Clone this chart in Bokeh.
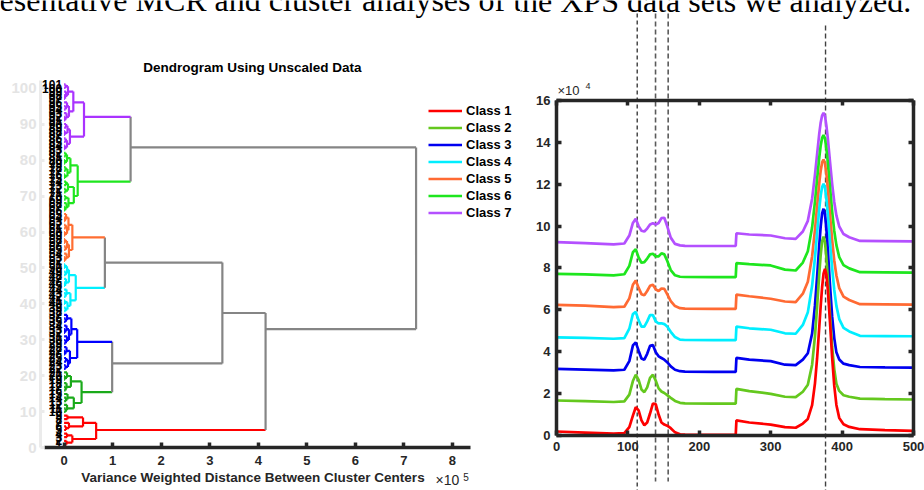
from bokeh.plotting import figure
from bokeh.models import (Range1d, LinearAxis, FixedTicker, Label, Legend, LegendItem,
                          CustomJSTickFormatter, ColumnDataSource)
from bokeh.layouts import row
from bokeh.embed import file_html
from bokeh.resources import INLINE
from bokeh.core.properties import value

FONT = "Liberation Sans"
SERIF = "Liberation Serif"
INK = "#262626"
GRAY = "#858585"

# ---------------- data ----------------
class_names = ["Class 1", "Class 2", "Class 3", "Class 4", "Class 5", "Class 6", "Class 7"]
spec_colors = ["#ff0000", "#64c81e", "#0000f0", "#00eeff", "#ff6a33", "#1ee61e", "#b450ff"]
dend_colors = ["#ff0000", "#1aaa1a", "#0000ff", "#00f0ff", "#ff6e32", "#1ee61e", "#aa33ff"]

header_text = "esentative MCR and cluster analyses of the XPS data sets we analyzed."

# spectra (intensity in units of 1e4)
energy = [0, 40, 80, 95, 102, 107, 111, 115, 119, 123, 127, 131, 135, 139, 143, 147, 151, 155,
          160, 166, 173, 180, 220, 251, 252, 270, 300, 320, 335,
          345, 352, 358, 362, 365, 368, 370, 372, 374, 376, 378, 380, 383, 386, 389, 392, 396, 402, 410,
          425, 460, 500]
class1 = [0.19, 0.14, 0.09, 0.11, 0.40, 0.95, 1.35, 1.20, 0.72, 0.49, 0.62, 1.05, 1.52, 1.50, 1.00, 0.62, 0.52, 0.47,
          0.35, 0.15, 0.06, 0.04, 0.03, 0.03, 0.72, 0.62, 0.52, 0.40, 0.37,
          0.57, 0.79, 1.45, 2.49, 3.69, 5.16, 6.18, 7.08, 7.73, 7.96, 7.68, 6.96, 5.43, 3.75, 2.38, 1.46, 0.84, 0.54, 0.41,
          0.30, 0.26, 0.22]
class2 = [1.67, 1.64, 1.60, 1.63, 1.95, 2.60, 2.90, 2.65, 2.20, 2.07, 2.30, 2.75, 2.90, 2.62, 2.25, 2.10, 2.03, 1.93,
          1.80, 1.65, 1.56, 1.53, 1.52, 1.52, 2.23, 2.12, 1.99, 1.85, 1.83,
          2.09, 2.42, 3.38, 4.75, 6.17, 7.71, 8.62, 9.27, 9.50, 9.23, 8.50, 7.49, 5.79, 4.25, 3.17, 2.47, 2.13, 1.92, 1.85,
          1.76, 1.74, 1.72]
class3 = [3.18, 3.15, 3.11, 3.14, 3.55, 4.30, 4.45, 4.05, 3.68, 3.62, 3.90, 4.28, 4.32, 3.98, 3.78, 3.70, 3.62, 3.50,
          3.30, 3.14, 3.07, 3.05, 3.04, 3.04, 3.71, 3.62, 3.55, 3.38, 3.36,
          3.62, 3.93, 4.87, 6.21, 7.59, 9.09, 9.97, 10.61, 10.83, 10.56, 9.85, 8.86, 7.21, 5.70, 4.65, 3.97, 3.63, 3.43, 3.36,
          3.27, 3.25, 3.24]
class4 = [4.69, 4.66, 4.62, 4.65, 5.10, 5.80, 5.90, 5.50, 5.20, 5.20, 5.45, 5.75, 5.75, 5.45, 5.35, 5.36, 5.32, 5.20,
          4.95, 4.70, 4.58, 4.56, 4.55, 4.55, 5.20, 5.12, 5.05, 4.88, 4.86,
          5.28, 5.88, 7.15, 8.49, 9.68, 10.83, 11.45, 11.87, 12.02, 11.84, 11.29, 10.57, 9.26, 8.00, 6.95, 6.19, 5.56, 5.14, 4.97,
          4.76, 4.75, 4.74]
class5 = [6.24, 6.20, 6.13, 6.15, 6.55, 7.20, 7.40, 7.05, 6.75, 6.70, 6.90, 7.15, 7.20, 6.98, 6.90, 7.02, 7.00, 6.75,
          6.42, 6.18, 6.08, 6.06, 6.05, 6.05, 6.73, 6.65, 6.53, 6.40, 6.37,
          6.77, 7.34, 8.55, 9.82, 10.95, 12.05, 12.64, 13.04, 13.18, 13.01, 12.49, 11.80, 10.56, 9.35, 8.36, 7.64, 7.04, 6.63, 6.47,
          6.27, 6.26, 6.25]
class6 = [7.72, 7.69, 7.65, 7.70, 8.10, 8.75, 8.90, 8.50, 8.25, 8.28, 8.45, 8.65, 8.68, 8.55, 8.55, 8.70, 8.65, 8.35,
          7.90, 7.65, 7.58, 7.57, 7.56, 7.56, 8.23, 8.18, 8.12, 7.92, 7.88,
          8.26, 8.80, 9.94, 11.17, 12.23, 13.27, 13.84, 14.21, 14.35, 14.19, 13.69, 13.04, 11.86, 10.72, 9.77, 9.09, 8.52, 8.14, 7.98,
          7.80, 7.79, 7.78]
class7 = [9.23, 9.19, 9.13, 9.17, 9.55, 10.15, 10.35, 10.00, 9.78, 9.74, 9.88, 10.08, 10.14, 10.08, 10.15, 10.38, 10.40, 10.00,
          9.45, 9.15, 9.08, 9.06, 9.05, 9.05, 9.66, 9.60, 9.55, 9.42, 9.39,
          9.74, 10.25, 11.31, 12.45, 13.44, 14.41, 14.94, 15.28, 15.41, 15.26, 14.80, 14.19, 13.09, 12.03, 11.15, 10.51, 9.98, 9.62, 9.47,
          9.29, 9.28, 9.27]
spectra = [class1, class2, class3, class4, class5, class6, class7]

ref_lines = [113.0, 138.7, 156.4, 376.8]
spec_x_ticks = [0, 100, 200, 300, 400, 500]
spec_y_ticks = [0, 2, 4, 6, 8, 10, 12, 14, 16]

# dendrogram: (left, right, height in 1e5); leaves are leaf positions
class_trees = [
    (((1, 2, .05), (3, 4, .06), .17), (((5, 6, .04), 7, .10), (8, 9, .07), .39), .66),
    ((((10, 11, .03), 12, .06), ((13, 14, .04), 15, .07), .20),
     (((16, 17, .03), 18, .05), ((19, 20, .02), 21, .06), .14), .36),
    ((((22, 23, .03), (24, 25, .04), .08), ((26, 27, .02), 28, .05), .12),
     ((((29, 30, .03), 31, .06), ((32, 33, .02), 34, .05), .10), ((35, 36, .03), 37, .06), .15), .27),
    ((((38, 39, .03), (40, 41, .02), .07), ((42, 43, .03), 44, .05), .13),
     (((45, 46, .02), 47, .04), ((48, 49, .03), (50, 51, .02), .06), .10), .24),
    ((((52, 53, .02), 54, .05), ((55, 56, .03), (57, 58, .02), .06), .10),
     (((59, 60, .02), (61, 62, .03), .06), ((63, 64, .02), 65, .04), .09), .17),
    (((((66, 67, .02), 68, .05), (69, 70, .03), .09), ((71, 72, .03), (73, 74, .04), .08), .20),
     (((75, 76, .02), (77, 78, .03), .07), ((79, 80, .02), (81, 82, .03), .06), .13), .28),
    ((((83, 84, .02), (85, 86, .03), .06), ((87, 88, .02), (89, 90, .04), .07), .12),
     ((((91, 92, .02), 93, .05), ((94, 95, .03), 96, .06), .10), (((97, 98, .02), 99, .04), (100, 101, .03), .08), .19), .41),
]
gray_links = [("C4", "C5", 0.84, "B"), ("C2", "C3", 0.99, "C"), ("C", "B", 3.26, "D"),
              ("C1", "D", 4.15, "E"), ("C6", "C7", 1.37, "A"), ("E", "A", 7.25, "R")]
leaf_labels = [str(i) for i in range(1, 102)]
dend_x_ticks = [0, 1, 2, 3, 4, 5, 6, 7, 8]
dend_y_ticks = [0, 10, 20, 30, 40, 50, 60, 70, 80, 90, 100]


def style_axis(ax, color=INK, label_color=INK, width=3.5, size="13px", tick_in=5, standoff=6):
    ax.axis_line_color = color
    ax.axis_line_width = width
    ax.major_tick_line_color = color
    ax.major_tick_line_width = width
    ax.major_tick_in = tick_in
    ax.major_tick_out = 0
    ax.minor_tick_line_color = None
    ax.major_label_text_font = FONT
    ax.major_label_text_font_style = "bold"
    ax.major_label_text_font_size = size
    ax.major_label_text_color = label_color
    ax.major_label_standoff = standoff


def base_fig(w, h, xr, yr):
    p = figure(width=w, height=h, x_range=Range1d(*xr), y_range=Range1d(*yr),
               output_backend="svg", toolbar_location=None, min_border=0)
    p.outline_line_color = None
    p.grid.visible = False
    p.background_fill_color = "white"
    p.border_fill_color = "white"
    return p


# ---------------- left: dendrogram ----------------
p1 = base_fig(520, 490, (-1.31, 9.401), (-11.81, 124.31))


def walk(node, color, segs):
    """returns (sum of leaf positions, leaf count, height)"""
    if isinstance(node, int):
        return float(node), 1, 0.0
    left, right, h = node
    s1, n1, h1 = walk(left, color, segs)
    s2, n2, h2 = walk(right, color, segs)
    y1, y2 = s1 / n1, s2 / n2
    segs.append((h1, y1, h, y1, color))
    segs.append((h, y1, h, y2, color))
    segs.append((h2, y2, h, y2, color))
    return s1 + s2, n1 + n2, h


segs = []
nodes = {}
for i, tree in enumerate(class_trees):
    s, n, h = walk(tree, dend_colors[i], segs)
    nodes["C%d" % (i + 1)] = (s, n, h, dend_colors[i])
for a, b, h, name in gray_links:
    sa, na, ha, ca = nodes[a]
    sb, nb, hb, cb = nodes[b]
    ya, yb = sa / na, sb / nb
    segs += [(ha, ya, h, ya, ca), (h, ya, h, yb, GRAY), (hb, yb, h, yb, cb)]
    nodes[name] = (sa + sb, na + nb, h, GRAY)

seg_src = ColumnDataSource(dict(x0=[s[0] for s in segs], y0=[s[1] for s in segs],
                                x1=[s[2] for s in segs], y1=[s[3] for s in segs],
                                c=[s[4] for s in segs]))
p1.segment(x0="x0", y0="y0", x1="x1", y1="y1", line_color="c", line_width=2.2, source=seg_src)

leaf_src = ColumnDataSource(dict(x=[0.0] * len(leaf_labels), y=list(range(1, len(leaf_labels) + 1)), t=leaf_labels))
p1.text(x="x", y="y", text="t", source=leaf_src, text_font=value(FONT), text_font_style="bold",
        text_font_size="12px", text_align="right", text_baseline="middle", x_offset=-2, text_color="black")

p1.xaxis.fixed_location = 0
p1.xaxis.bounds = (-0.4, 8.37)
p1.xaxis.ticker = FixedTicker(ticks=dend_x_ticks)
style_axis(p1.xaxis, standoff=8)
p1.yaxis.fixed_location = -0.486
p1.yaxis.bounds = (0, 102)
p1.yaxis.ticker = FixedTicker(ticks=dend_y_ticks)
style_axis(p1.yaxis, color="#ebebeb", label_color="#e4e4e4", width=3, size="15px", tick_in=4, standoff=4)

p1.add_layout(Label(x=3.88, y=103.6, text="Dendrogram Using Unscaled Data", text_align="center",
                    text_font=FONT, text_font_style="bold", text_font_size="13.5px", text_color="black"))
p1.add_layout(Label(x=3.89, y=-10.4, text="Variance Weighted Distance Between Cluster Centers",
                    text_align="center", text_font=FONT, text_font_style="bold", text_font_size="13.5px",
                    text_color=INK))
p1.add_layout(Label(x=7.65, y=-11.25, text="\u00d710", text_font=FONT, text_font_size="14px", text_color=INK))
p1.add_layout(Label(x=8.22, y=-9.2, text="5", text_font=FONT, text_font_size="10px", text_color=INK))

items = []
for name, c in zip(class_names, spec_colors):
    r = p1.line(x=[-5, -4], y=[-50, -50], line_color=c, line_width=2.5)
    items.append(LegendItem(label=name, renderers=[r]))
legend = Legend(items=items, location=(428, 270), glyph_width=34, glyph_height=15, label_height=15,
                spacing=2, padding=0, margin=0, label_standoff=4, border_line_color=None,
                background_fill_alpha=0, label_text_font=FONT, label_text_font_style="bold",
                label_text_font_size="13px", label_text_color="black")
p1.add_layout(legend)

p1.add_layout(Label(x=-1.33, y=119.58, text=header_text, text_font=SERIF, text_font_size="32px",
                    text_color="black"))

# ---------------- right: spectra ----------------
p2 = base_fig(404, 490, (-50.42, 515.4), (-2.627, 20.774))

tops = [20.15, 20.15, 20.15, 19.58]
dash_styles = [("#1a1a1a", 1.2, "4 3"), ("#5a5a5a", 1.6, "5 3"), ("#5a5a5a", 1.6, "5 3"), ("#404040", 1.4, "5 3")]
bottoms = [-2.7, -2.2, -2.2, -2.7]
for xv, top, bot, (col, lw, dash) in zip(ref_lines, tops, bottoms, dash_styles):
    p2.segment(x0=[xv], y0=[top], x1=[xv], y1=[bot], line_color=col, line_width=lw, line_dash=dash)

for i in range(6, -1, -1):
    p2.line(energy, spectra[i], line_color=spec_colors[i], line_width=2.7)

p2.xaxis.fixed_location = 0
p2.xaxis.bounds = (0, 500)
p2.xaxis.ticker = FixedTicker(ticks=spec_x_ticks)
style_axis(p2.xaxis, standoff=7)
p2.yaxis.fixed_location = 0
p2.yaxis.bounds = (0, 16)
p2.yaxis.ticker = FixedTicker(ticks=spec_y_ticks)
style_axis(p2.yaxis, standoff=6)

top_ax = LinearAxis(fixed_location=16, bounds=(0, 500), ticker=FixedTicker(ticks=spec_x_ticks),
                    formatter=CustomJSTickFormatter(code="return ''"))
style_axis(top_ax)
p2.add_layout(top_ax, "above")
right_ax = LinearAxis(fixed_location=500, bounds=(0, 16), ticker=FixedTicker(ticks=spec_y_ticks),
                      formatter=CustomJSTickFormatter(code="return ''"))
style_axis(right_ax)
p2.add_layout(right_ax, "right")

p2.add_layout(Label(x=1.4, y=16.14, text="\u00d710", text_font=FONT, text_font_size="13px", text_color=INK))
p2.add_layout(Label(x=40.6, y=16.55, text="4", text_font=FONT, text_font_size="9px", text_color=INK))
p2.add_layout(Label(x=-780.1, y=19.9, text=header_text, text_font=SERIF, text_font_size="32px",
                    text_color="black"))

layout = row(p1, p2)
open("out.html", "w").write(file_html(layout, INLINE))
